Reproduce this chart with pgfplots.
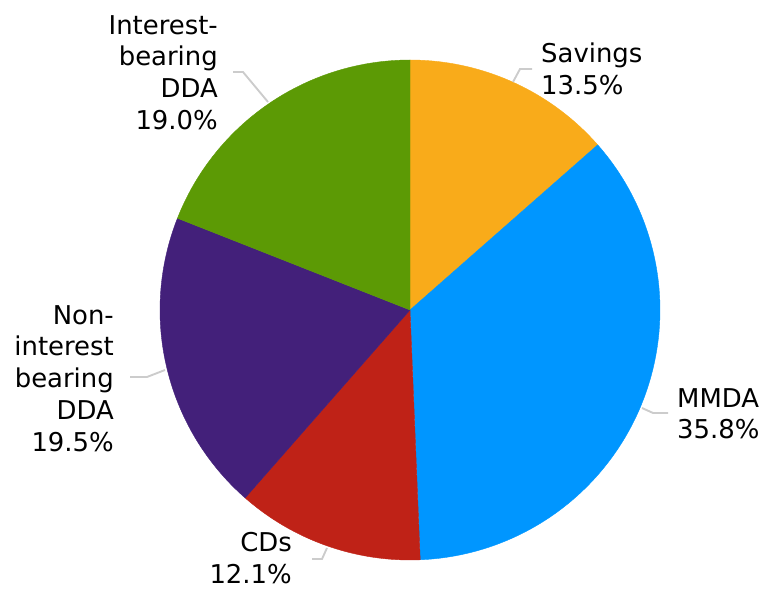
\documentclass[border=0pt]{standalone}
\usepackage{pgfplots}
\pgfplotsset{compat=1.18}
\usepackage{fontspec}
\setmainfont{DejaVu Sans}
\definecolor{cSav}{HTML}{F9AB1A}
\definecolor{cMM}{HTML}{0096FF}
\definecolor{cCD}{HTML}{BF2217}
\definecolor{cNI}{HTML}{43207A}
\definecolor{cIB}{HTML}{5C9A05}
\definecolor{cLead}{HTML}{CCCCCC}
% slice values (percent)
\def\vSav{13.5}\def\vMM{35.8}\def\vCD{12.1}\def\vNI{19.5}\def\vIB{19.0}
\pgfmathsetmacro\total{\vSav+\vMM+\vCD+\vNI+\vIB}
\def\astart{90}
\newcommand\slice[2]{%
  \pgfmathsetmacro\aend{\astart-#1*360/\total}%
  \edef\temp{\noexpand\addplot[fill=#2, draw=#2, line width=0.4pt, domain=\aend:\astart, samples=90, variable=\noexpand\t]
    ({410+250*cos(\noexpand\t)},{279+250*sin(\noexpand\t)}) -- (axis cs:410,279) -- cycle;}%
  \temp
  \global\let\astart\aend}
\tikzset{lab/.style={font=\fontsize{26}{32}\selectfont, inner sep=0pt}}
\begin{document}
\begin{tikzpicture}
\begin{axis}[
  width=766bp, height=589bp, scale only axis,
  xmin=0, xmax=766, ymin=0, ymax=589,
  hide axis, clip=false,
]
\path (axis cs:0,0) rectangle (axis cs:766,589);
\slice{\vSav}{cSav}
\slice{\vMM}{cMM}
\slice{\vCD}{cCD}
\slice{\vNI}{cNI}
\slice{\vIB}{cIB}
% leader lines
\addplot[cLead, line width=1.9pt] coordinates {(532,520) (520,520) (513,507)};
\addplot[cLead, line width=1.9pt] coordinates {(668,176) (653,176) (642,181)};
\addplot[cLead, line width=1.9pt] coordinates {(312,30) (322,30) (327,41)};
\addplot[cLead, line width=1.9pt] coordinates {(130,212) (147,212) (165,219)};
\addplot[cLead, line width=1.9pt] coordinates {(233,517) (243,517) (268,487)};
% labels
\node[lab, anchor=north west, align=left] at (axis cs:541,546) {Savings\\13.5\%};
\node[lab, anchor=north west, align=left] at (axis cs:677,201) {MMDA\\35.8\%};
\node[lab, anchor=north east, align=right] at (axis cs:292,57) {CDs\\12.1\%};
\node[lab, anchor=north east, align=right] at (axis cs:114,284) {Non-\\interest\\bearing\\DDA\\19.5\%};
\node[lab, anchor=north east, align=right] at (axis cs:218,574) {Interest-\\bearing\\DDA\\19.0\%};
\end{axis}
\end{tikzpicture}
\end{document}
